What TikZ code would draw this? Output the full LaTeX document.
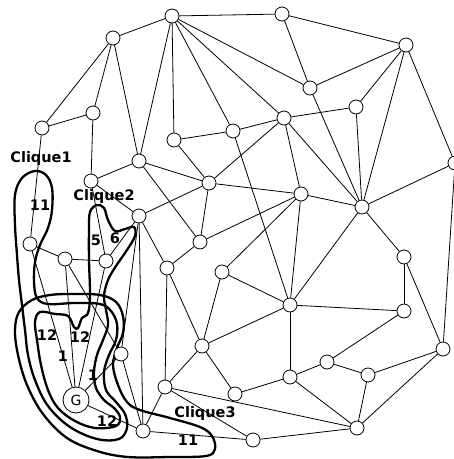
\documentclass[tikz,border=0pt]{standalone}
\usepackage{fontspec}
\newfontfamily\labfont{DejaVu Sans}
\pgfdeclarelayer{bg}
\pgfsetlayers{bg,main}
\begin{document}
\begin{tikzpicture}[x=1pt,y=-1pt]
\tikzset{
 vtx/.style={circle,draw,fill=white,minimum size=14pt,inner sep=0pt,line width=0.8pt},
 gvtx/.style={vtx,minimum size=26pt,font=\labfont\fontsize{14}{14}\selectfont},
 lnk/.style={line width=0.8pt},
 clq/.style={line width=2.3pt,line join=round},
 wlab/.style={font=\labfont\bfseries\fontsize{14.5}{14.5}\selectfont,inner sep=0pt},
}
\useasboundingbox (0,0) rectangle (454,459);
% vertices
\node[vtx] (n1) at (172,16) {};
\node[vtx] (n2) at (282,14) {};
\node[vtx] (n3) at (406,45) {};
\node[vtx] (n4) at (113,38) {};
\node[vtx] (n5) at (310,88) {};
\node[vtx] (n6) at (356,107) {};
\node[vtx] (n7) at (93,113) {};
\node[vtx] (n8) at (42,128) {};
\node[vtx] (n9) at (174,140) {};
\node[vtx] (n10) at (233,131) {};
\node[vtx] (n11) at (284,118) {};
\node[vtx] (n12) at (455,163) {};
\node[vtx] (n13) at (139,161) {};
\node[vtx] (n14) at (91,181) {};
\node[vtx] (n15) at (209,183) {};
\node[vtx] (n16) at (301,194) {};
\node[vtx] (n17) at (362,207) {};
\node[vtx] (n18) at (139,216) {};
\node[vtx] (n19) at (30,244) {};
\node[vtx] (n20) at (65,259) {};
\node[vtx] (n21) at (106,261) {};
\node[vtx] (n22) at (200,242) {};
\node[vtx] (n23) at (404,257) {};
\node[vtx] (n24) at (167,268) {};
\node[vtx] (n25) at (222,272) {};
\node[vtx] (n26) at (290,305) {};
\node[vtx] (n27) at (404,311) {};
\node[vtx] (n28) at (202,346) {};
\node[vtx] (n29) at (121,354) {};
\node[vtx] (n30) at (443,349) {};
\node[vtx] (n31) at (327,362) {};
\node[vtx] (n32) at (368,375) {};
\node[vtx] (n33) at (290,377) {};
\node[vtx] (n34) at (165,387) {};
\node[vtx] (n35) at (235,394) {};
\node[gvtx] (g) at (76,400) {G};
\node[vtx] (n37) at (143,431) {};
\node[vtx] (n38) at (357,428) {};
\node[vtx] (n39) at (253,440) {};
% edges
\foreach \a/\b in {n1/n2,n1/n4,n1/n5,n1/n9,n1/n10,n1/n11,n1/n13,
 n2/n3,n2/n5,n3/n5,n3/n6,n3/n17,n3/n12,
 n4/n7,n4/n8,n4/n13,n5/n17,n6/n11,n6/n17,n7/n8,n7/n14,n8/n19,
 n9/n10,n9/n15,n10/n11,n10/n26,n11/n15,n11/n16,n11/n17,
 n12/n17,n12/n30,n13/n14,n13/n15,n13/n22,n14/n18,n14/n21,
 n15/n16,n15/n18,n15/n22,n16/n17,n16/n22,n16/n25,n16/n26,n17/n23,n17/n26,
 n18/n21,n18/n24,n18/n29,n18/n37,n19/n20,n19/g,n20/n21,n20/g,n20/n29,n21/g,
 n22/n24,n23/n27,n23/n30,n24/n28,n24/n34,n25/n26,n25/n28,
 n26/n27,n26/n28,n26/n33,n27/n31,n28/n34,n28/n35,n29/g,n29/n37,
 n30/n32,n30/n38,n31/n32,n31/n33,n32/n38,n33/n35,n33/n38,
 n34/n37,n34/n38,n34/n39,n37/g,n37/n39,n38/n39}
 \draw[lnk] (\a) -- (\b);
% cliques
\begin{pgfonlayer}{bg}
\fill[white] (0,0) rectangle (454,459);
\draw[clq] plot[smooth cycle,tension=0.6] coordinates {
 (72,294) (100,295) (116,302) (123,316) (123,333) (117,348) (113,365)
 (118,385) (127,402) (140,410) (170,418) (200,427) (212,436) (215,449)
 (206,456) (170,457) (128,457) (97,451) (67,438) (43,414) (27,385)
 (18,355) (15,330) (19,312) (32,300) (50,295)};
\draw[clq] plot[smooth cycle,tension=0.6] coordinates {
 (35,171) (46,175) (52,188) (52,210) (48,228) (40,245) (35,262) (34,282)
 (37,298) (48,304) (75,303) (100,304) (111,311) (117,324) (116,340)
 (109,355) (104,372) (106,390) (116,402) (125,414) (127,428) (119,439)
 (97,439) (70,427) (48,406) (35,380) (28,355) (25,330) (22,305) (19,280)
 (17,255) (15,225) (15,195) (22,178)};
\draw[clq] plot[smooth cycle,tension=0.6] coordinates {
 (97,205) (104,208) (108,220) (115,231) (125,229) (134,227) (135,236)
 (127,250) (116,266) (108,280) (104,296) (106,310) (108,325) (103,340)
 (97,355) (94,372) (96,388) (104,400) (114,408) (120,417) (116,426)
 (95,428) (75,421) (58,408) (48,390) (41,365) (37,340) (35,322) (40,312)
 (55,314) (68,316) (74,327) (78,328) (82,318) (88,313) (90,295) (89,260)
 (89,230) (90,212)};
\end{pgfonlayer}
% labels
\node[wlab] (c1) at (41,158) {Clique1};
\node[wlab] (c2) at (104,196) {Clique2};
\node[wlab] (c3) at (205,413) {Clique3};
\node[wlab] (w1) at (40,205) {11};
\node[wlab] (w2) at (96,240) {5};
\node[wlab] (w3) at (115,238) {6};
\node[wlab] (w4) at (47,335) {12};
\node[wlab] (w5) at (80,337) {12};
\node[wlab] (w6) at (63,356) {1};
\node[wlab] (w7) at (93,375) {1};
\node[wlab] (w8) at (107,421) {12};
\node[wlab] (w9) at (188,440) {11};
\end{tikzpicture}
\end{document}
